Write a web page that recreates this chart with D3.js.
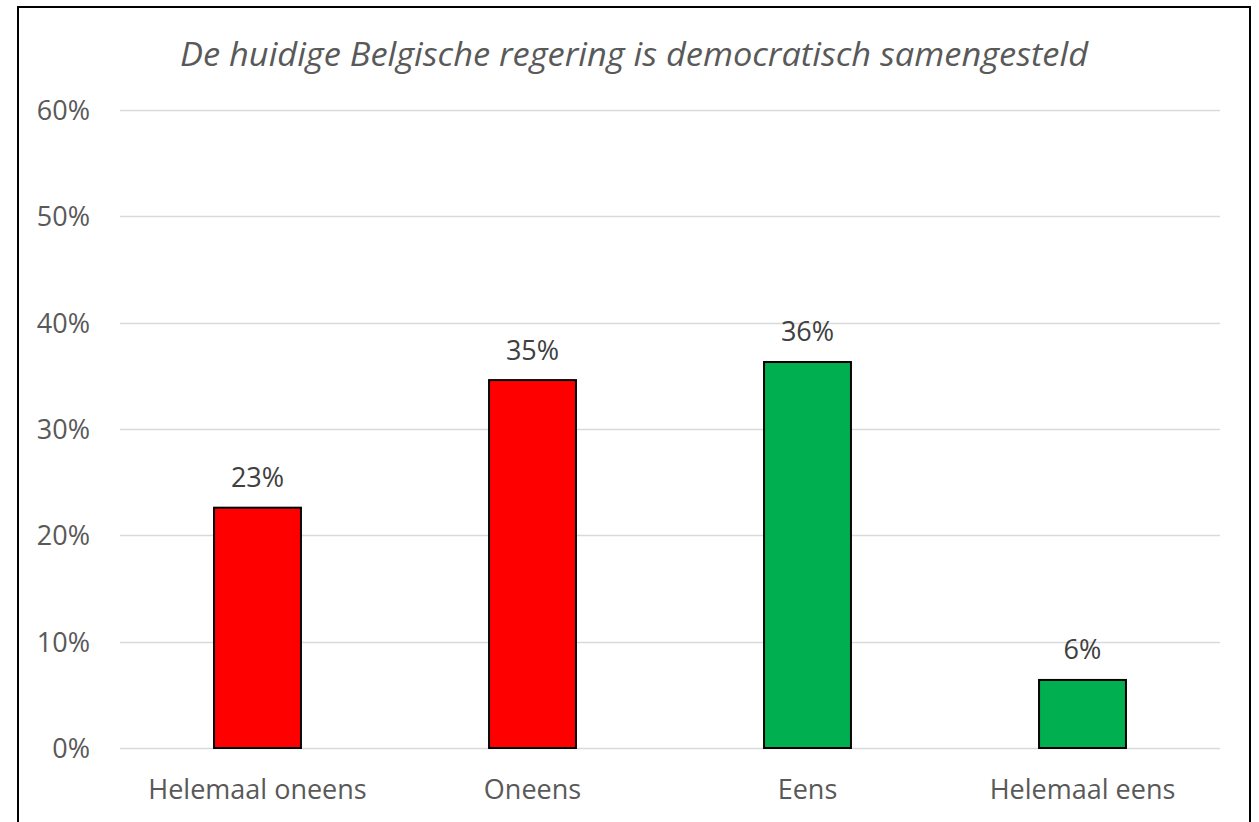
<!DOCTYPE html>
<html><head><meta charset="utf-8">
<script src="https://cdn.jsdelivr.net/npm/d3@7"></script>
<style>html,body{margin:0;padding:0;background:#fff;}svg{display:block;}</style>
</head><body>
<svg id="chart" width="1259" height="822"></svg>
<script>
const title = "De huidige Belgische regering is democratisch samengesteld";
const categories = ["Helemaal oneens", "Oneens", "Eens", "Helemaal eens"];
const values = [0.226, 0.346, 0.363, 0.064];
const barColors = ["#FF0000", "#FF0000", "#00B050", "#00B050"];
const yTicks = [0, 0.1, 0.2, 0.3, 0.4, 0.5, 0.6];

const svg = d3.select("#chart");
const font = "'Open Sans', 'Noto Sans', sans-serif";
const textColor = "#595959";
const fs = 27;

// frame
svg.append("rect").attr("x", 18).attr("y", 7).attr("width", 1232).attr("height", 830)
  .attr("fill", "#fff").attr("stroke", "#000").attr("stroke-width", 2);

const plot = {left: 120, right: 1220, top: 110, bottom: 748};

const x = d3.scaleBand().domain(categories).range([plot.left, plot.right]).paddingInner(0.684).paddingOuter(0.342);
const y = d3.scaleLinear().domain([0, 0.6]).range([plot.bottom, plot.top]);

// gridlines
svg.append("g").selectAll("line").data(yTicks).join("line")
  .attr("x1", plot.left).attr("x2", plot.right)
  .attr("y1", d => Math.round(y(d)) + 0.5).attr("y2", d => Math.round(y(d)) + 0.5)
  .attr("stroke", "#D9D9D9").attr("stroke-width", 1.5);

// y axis labels
const yAxis = d3.axisLeft(y).tickValues(yTicks).tickFormat(d3.format(".0%")).tickSize(0).tickPadding(0);
const gy = svg.append("g").attr("transform", `translate(90,0)`).call(yAxis);
gy.select(".domain").remove();
gy.selectAll("text").attr("font-family", font).attr("font-size", fs).attr("fill", textColor).attr("dy", "0.35em");

// x axis labels
const xAxis = d3.axisBottom(x).tickSize(0).tickPadding(0);
const gx = svg.append("g").attr("transform", `translate(0,${plot.bottom + 42})`).call(xAxis);
gx.select(".domain").remove();
gx.selectAll("text").attr("font-family", font).attr("font-size", fs).attr("fill", textColor).attr("dy", "0.35em");

// bars
svg.append("g").selectAll("rect").data(values).join("rect")
  .attr("x", (d, i) => x(categories[i]))
  .attr("width", x.bandwidth())
  .attr("y", d => y(d))
  .attr("height", d => y(0) - y(d))
  .attr("fill", (d, i) => barColors[i])
  .attr("stroke", "#000").attr("stroke-width", 2);

// value labels
svg.append("g").selectAll("text").data(values).join("text")
  .attr("x", (d, i) => x(categories[i]) + x.bandwidth() / 2)
  .attr("y", d => y(d) - 30)
  .attr("text-anchor", "middle")
  .attr("dy", "0.35em")
  .attr("font-family", font).attr("font-size", fs).attr("fill", "#404040")
  .text(d => d3.format(".0%")(d));

// title
svg.append("text").attr("x", 634).attr("y", 54).attr("text-anchor", "middle").attr("dy", "0.35em")
  .attr("font-family", font).attr("font-style", "italic").attr("font-size", 33).attr("fill", textColor)
  .attr("textLength", 908).attr("lengthAdjust", "spacingAndGlyphs")
  .text(title);
</script>
</body></html>
